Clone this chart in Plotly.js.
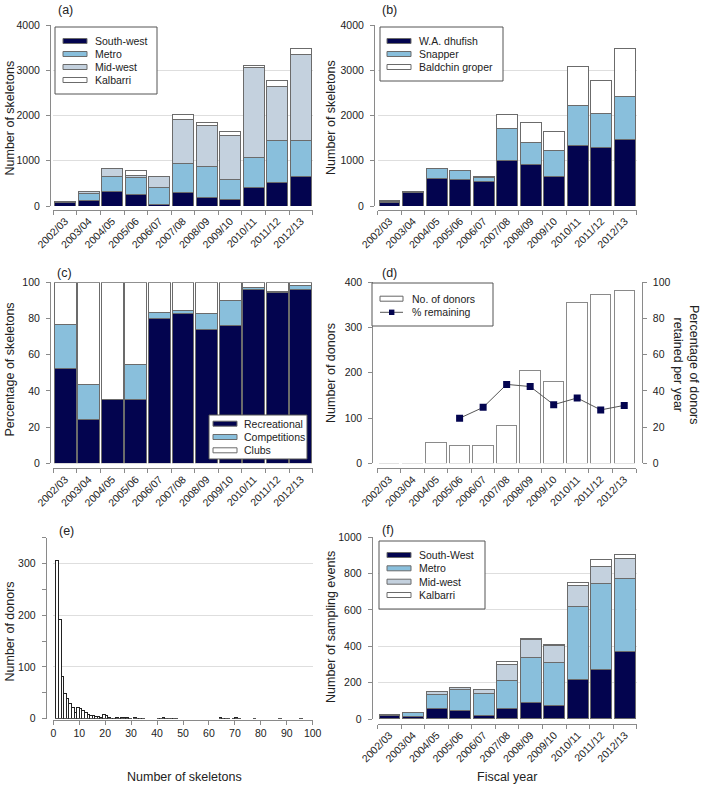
<!DOCTYPE html>
<html><head><meta charset="utf-8">
<script src="https://cdn.plot.ly/plotly-3.0.1.min.js"></script>
<style>html,body{margin:0;padding:0;background:#fff}#chart{width:701px;height:787px}</style>
</head><body><div id="chart"></div>
<script>
// ---------- DATA ----------
const years = ['2002/03','2003/04','2004/05','2005/06','2006/07','2007/08','2008/09','2009/10','2010/11','2011/12','2012/13'];
// (a) skeletons by region
const skelSouthWest = [80,115,310,258,37,288,192,148,406,524,657];
const skelMetro     = [10,160,335,362,361,649,686,442,664,915,782];
const skelMidWest   = [20,40,185,52,244,982,908,967,1993,1196,1912];
const skelKalbarri  = [0,0,0,110,5,103,52,89,37,140,132];
// (b) skeletons by species
const skelDhufish  = [82,288,605,583,531,996,908,657,1343,1292,1469];
const skelSnapper  = [22,20,222,199,89,716,494,568,878,752,952];
const skelBaldchin = [10,9,0,0,22,310,436,421,871,731,1062];
// (c) percentage of skeletons by source
const pctRecreational = [52.5,24.1,35.5,35.2,80.1,82.5,73.7,75.9,96.1,94.1,96.1];
const pctCompetitions = [24.1,19.5,0,19.3,3.3,2.0,9.0,14.2,1.3,0.9,1.9];
const pctClubs        = [23.4,56.4,64.5,45.5,16.6,15.5,17.3,9.9,2.6,5.0,2.0];
// (d) donors and % retained
const donorCount   = [0,0,45,39,39,83,205,181,356,373,382];
const pctRetained  = [null,null,null,24.9,30.9,43.6,42.4,32.4,36.1,29.5,32.0];
// (e) donors by number of skeletons donated
const histSkeletons = [1,2,3,4,5,6,7,8,9,10,11,12,13,14,15,16,17,18,19,20,21,22,23,24,25,26,27,28,29,31,32,33,34,40,41,42,43,44,45,46,47,64,65,66,67,69,70,71,77,87,95];
const histDonors    = [306,191,81,48,39,29,21,12,21,19,15,12,8,6,6,5,4,3,8,7,2,1,1,2,1,2,2,2,1,2,1,1,1,1,1,2,1,1,1,1,1,2,1,1,1,1,2,1,1,1,1];
// (f) sampling events by region
const evSouthWest = [18,14,60,46,20,57,92,75,220,275,371];
const evMetro     = [2,21,76,117,123,156,247,235,398,472,403];
const evMidWest   = [5,3,16,11,22,88,100,93,118,92,107];
const evKalbarri  = [0,0,0,0,0,16,4,6,14,40,27];

// ---------- STYLE / LAYOUT HELPERS ----------
const W=701,H=787;
const fx=v=>v/W, fy=v=>1-v/H;
const FONT='"Liberation Sans", Arial, sans-serif';
const NAVY='#03044f', LBLUE='#89bfdc', GRAYBLUE='#c4d1de', EDGE='#6b6b6b';
const axBase={showline:true,linecolor:'#8a8a8a',linewidth:1,ticks:'outside',ticklen:4,tickcolor:'#8a8a8a',
  tickfont:{size:10.5,color:'#222',family:FONT},zeroline:false,showgrid:false,gridcolor:'#dedede',fixedrange:true};
function xcat(d0,d1,posY){return Object.assign({},axBase,{type:'category',domain:[fx(d0),fx(d1)],anchor:'free',
  position:fy(posY),tickson:'boundaries',tickangle:-45,range:[-0.5,10.5],categoryorder:'array',categoryarray:years});}
function ylin(top,bot,posX,range,dtick,grid,extra){return Object.assign({},axBase,{domain:[fy(bot),fy(top)],anchor:'free',
  position:fx(posX),range:range,dtick:dtick,showgrid:grid,ticklabelstandoff:4},extra||{});}

function stack(name,y,color,xa,ya,extra){return Object.assign({type:'bar',name:name,x:years,y:y,xaxis:xa,yaxis:ya,
  marker:{color:color,line:{color:EDGE,width:1}},showlegend:false,hoverinfo:'name+y'},extra||{});}

const traces=[
  stack('South-west',skelSouthWest,NAVY,'x','y'),
  stack('Metro',skelMetro,LBLUE,'x','y'),
  stack('Mid-west',skelMidWest,GRAYBLUE,'x','y'),
  stack('Kalbarri',skelKalbarri,'#ffffff','x','y'),
  stack('W.A. dhufish',skelDhufish,NAVY,'x2','y2'),
  stack('Snapper',skelSnapper,LBLUE,'x2','y2'),
  stack('Baldchin groper',skelBaldchin,'#ffffff','x2','y2'),
  stack('Recreational',pctRecreational,NAVY,'x3','y3',{width:0.93}),
  stack('Competitions',pctCompetitions,LBLUE,'x3','y3',{width:0.93}),
  stack('Clubs',pctClubs,'#ffffff','x3','y3',{width:0.93}),
  stack('No. of donors',donorCount,'#ffffff','x4','y4',{width:0.87,marker:{color:'#ffffff',line:{color:'#8a8a8a',width:1}}}),
  {type:'scatter',mode:'lines+markers',name:'% remaining',x:years,y:pctRetained,xaxis:'x4',yaxis:'y7',
    line:{color:'#555',width:1},marker:{symbol:'square',size:7,color:NAVY},showlegend:false,connectgaps:false},
  {type:'bar',name:'Donors',x:histSkeletons,y:histDonors,xaxis:'x5',yaxis:'y5',offset:0,width:1,
    marker:{color:'#ffffff',line:{color:'#222',width:1}},showlegend:false},
  stack('South-West',evSouthWest,NAVY,'x6','y6'),
  stack('Metro ',evMetro,LBLUE,'x6','y6'),
  stack('Mid-west ',evMidWest,GRAYBLUE,'x6','y6'),
  stack('Kalbarri ',evKalbarri,'#ffffff','x6','y6')
];

const shapes=[], annotations=[];
const LEGFONT={size:10.5,color:'#222',family:FONT};
function ann(text,x,y,opts){annotations.push(Object.assign({text:text,xref:'paper',yref:'paper',x:fx(x),y:fy(y),
  showarrow:false,xanchor:'center',yanchor:'middle',font:{size:12.5,color:'#222',family:FONT}},opts||{}));}
function box(x0,y0,x1,y1){shapes.push({type:'rect',xref:'paper',yref:'paper',x0:fx(x0),x1:fx(x1),y0:fy(y0),y1:fy(y1),
  line:{color:'#555',width:1},fillcolor:'rgba(255,255,255,1)',layer:'above'});}
function item(sx0,sx1,cy,color,text,tx,edge){shapes.push({type:'rect',xref:'paper',yref:'paper',x0:fx(sx0),x1:fx(sx1),
  y0:fy(cy+2.5),y1:fy(cy-2.5),line:{color:edge||EDGE,width:1},fillcolor:color,layer:'above'});
  ann(text,tx,cy,{xanchor:'left',font:LEGFONT});}

// legends
box(55,27,157,94);
item(63,87,41,NAVY,'South-west',93);
item(63,87,54,LBLUE,'Metro',93);
item(63,87,67,GRAYBLUE,'Mid-west',93);
item(63,87,80,'#ffffff','Kalbarri',93);
box(380,27,503,81);
item(387,411,41,NAVY,'W.A. dhufish',417);
item(387,411,54,LBLUE,'Snapper',417);
item(387,411,67,'#ffffff','Baldchin groper',417);
box(209,415,307,459);
item(213,237,423.7,NAVY,'Recreational',242);
item(213,237,437,LBLUE,'Competitions',242);
item(213,237,450.3,'#ffffff','Clubs',242);
box(372,283,493,326);
item(380,403,298.7,'#ffffff','No. of donors',410,'#666');
shapes.push({type:'line',xref:'paper',yref:'paper',x0:fx(380),x1:fx(403),y0:fy(312.3),y1:fy(312.3),line:{color:'#555',width:1},layer:'above'});
shapes.push({type:'rect',xref:'paper',yref:'paper',x0:fx(389),x1:fx(394.4),y0:fy(315),y1:fy(309.6),line:{width:0},fillcolor:NAVY,layer:'above'});
ann('% remaining',410,312.3,{xanchor:'left',font:LEGFONT});
box(379,541,485,609);
item(387,411,555,NAVY,'South-West',417);
item(387,411,568.3,LBLUE,'Metro',417);
item(387,411,581.7,GRAYBLUE,'Mid-west',417);
item(387,411,595,'#ffffff','Kalbarri',417);

// panel labels
ann('(a)',65,10); ann('(b)',389,10); ann('(c)',64,273); ann('(d)',389,273); ann('(e)',66,531); ann('(f)',388,530);
// axis titles
ann('Number of skeletons',9.5,118,{textangle:-90});
ann('Number of skeletons',331,118,{textangle:-90});
ann('Percentage of skeletons',9.5,370,{textangle:-90});
ann('Number of donors',331,373,{textangle:-90});
ann('Percentage of donors<br>retained per year',686,365,{textangle:90});
ann('Number of donors',9.5,632,{textangle:-90});
ann('Number of sampling events',331,627,{textangle:-90});
ann('Number of skeletons',185,777);
ann('Fiscal year',507,777);

const layout={
  width:W,height:H,margin:{l:0,r:0,t:0,b:0},paper_bgcolor:'#fff',plot_bgcolor:'rgba(0,0,0,0)',
  barmode:'stack',bargap:0.11,showlegend:false,font:{family:FONT,color:'#222'},
  xaxis:xcat(53.3,312.7,210), yaxis:ylin(25,206,50,[0,4000],1000,true),
  xaxis2:xcat(377.7,636.7,210), yaxis2:ylin(25,206,374,[0,4000],1000,true),
  xaxis3:xcat(53.3,312.7,468.3), yaxis3:ylin(282.3,463.3,50,[0,100],20,false),
  xaxis4:xcat(377.3,636,468.3), yaxis4:ylin(282.3,463.3,372.3,[0,400],100,false),
  yaxis7:ylin(282.3,463.3,641.7,[0,100],20,false,{overlaying:'y4',side:'right'}),
  xaxis5:Object.assign({},axBase,{domain:[fx(53.3),fx(312.7)],anchor:'free',position:fy(719.5),range:[0,100],dtick:10}),
  yaxis5:ylin(537.7,718.7,45.7,[0,350],100,true,{minor:{dtick:50,ticks:'outside',ticklen:4,tickcolor:'#8a8a8a',showgrid:false}}),
  xaxis6:xcat(377.7,636.7,724), yaxis6:ylin(537.3,719,371.7,[0,1000],200,true),
  shapes:shapes, annotations:annotations
};
Plotly.newPlot('chart',traces,layout,{displayModeBar:false,staticPlot:true});
</script></body></html>
